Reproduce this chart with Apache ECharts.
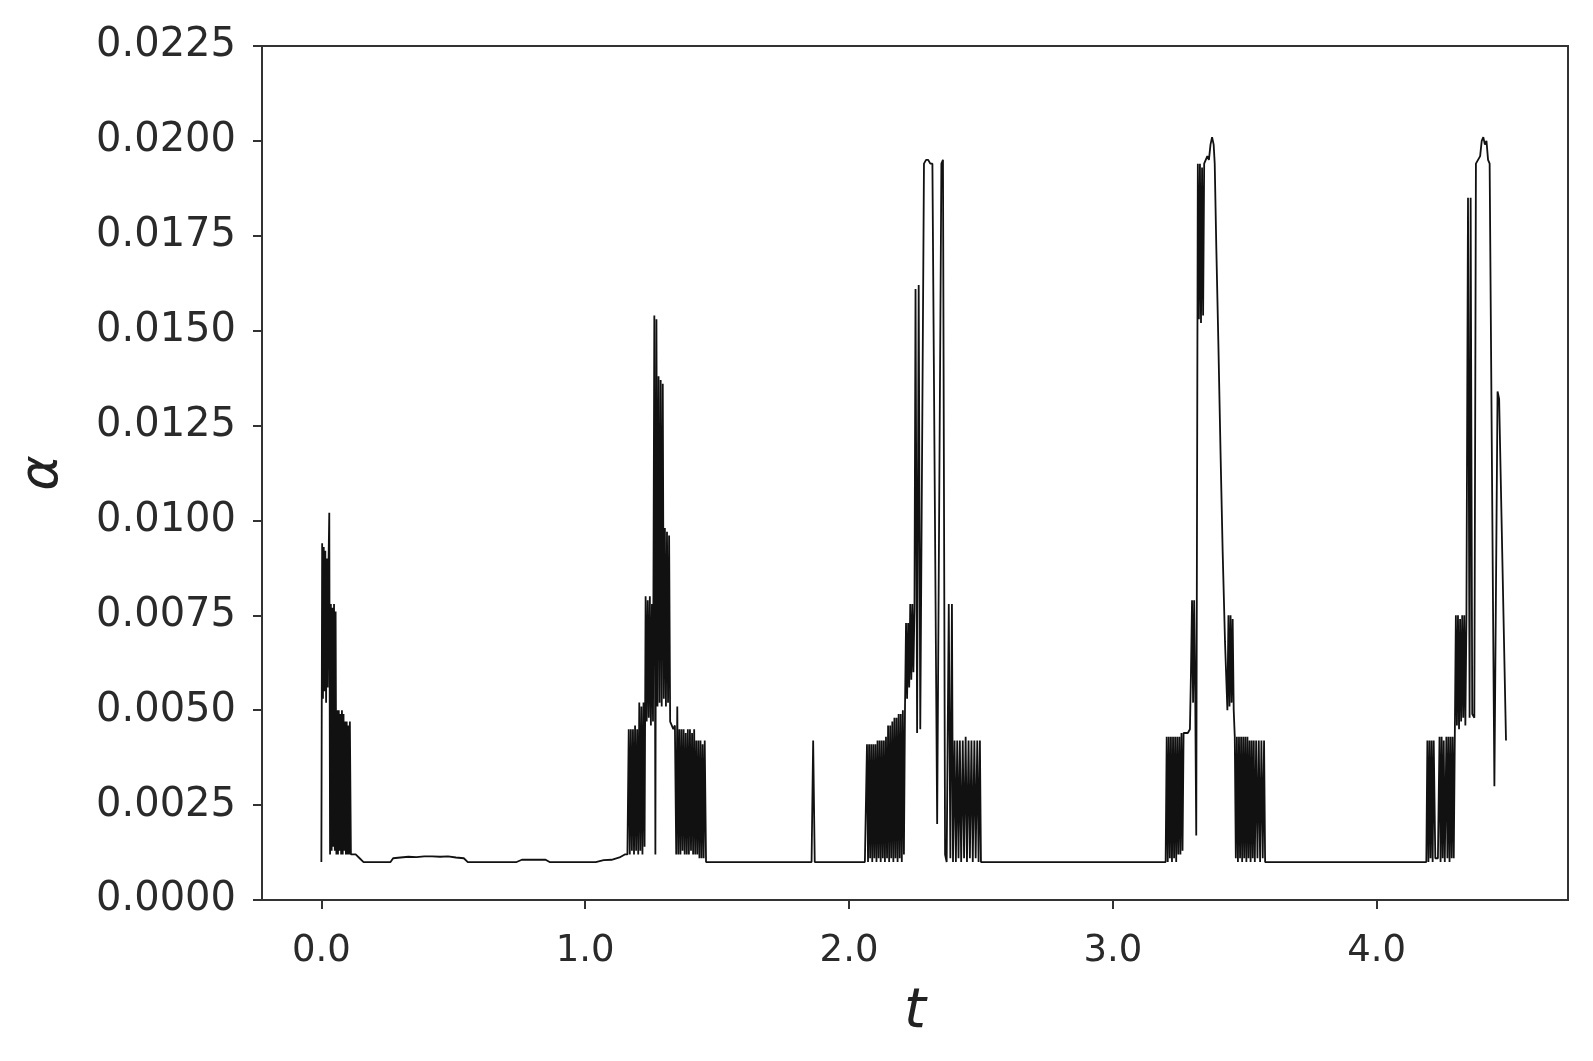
<!DOCTYPE html>
<html>
<head>
<meta charset="utf-8">
<script src="https://cdn.jsdelivr.net/npm/echarts@6/dist/echarts.min.js"></script>
<style>
  html, body { margin: 0; padding: 0; background: #fff; }
  #main { width: 1593px; height: 1061px; }
</style>
</head>
<body>
<div id="main"></div>
<script>
// [t, alpha] pairs, section by section
var burst1 = [
  [0.000,0.0010],[0.003,0.0094],[0.006,0.0053],[0.009,0.0093],[0.012,0.0055],[0.015,0.0092],
  [0.018,0.0052],[0.021,0.0090],[0.024,0.0056],[0.027,0.0088],[0.030,0.0102],[0.033,0.0012],
  [0.036,0.0078],[0.039,0.0013],[0.042,0.0077],[0.045,0.0014],[0.048,0.0078],[0.051,0.0013],
  [0.054,0.0076],[0.057,0.0012],[0.060,0.0050],[0.063,0.0012],[0.066,0.0050],[0.069,0.0013],
  [0.072,0.0049],[0.075,0.0012],[0.078,0.0050],[0.081,0.0012],[0.084,0.0049],[0.087,0.0013],
  [0.090,0.0047],[0.093,0.0012],[0.096,0.0047],[0.099,0.0012],[0.102,0.0046],[0.105,0.0012],
  [0.108,0.0047],[0.112,0.0012]
];
var rest1 = [
  [0.118,0.0012],[0.130,0.0012],[0.145,0.0011],[0.160,0.0010],[0.200,0.0010],[0.240,0.0010],
  [0.262,0.0010],[0.272,0.0011],[0.300,0.00112],[0.330,0.00114],[0.360,0.00113],[0.390,0.00115],
  [0.420,0.00115],[0.450,0.00114],[0.480,0.00115],[0.510,0.00112],[0.540,0.0011],[0.555,0.0010],
  [0.600,0.0010],[0.650,0.0010],[0.700,0.0010],[0.740,0.0010],[0.760,0.00106],[0.790,0.00106],
  [0.820,0.00106],[0.850,0.00106],[0.865,0.0010],[0.900,0.0010],[0.950,0.0010],[1.000,0.0010],
  [1.040,0.0010],[1.070,0.00105],[1.100,0.00106],[1.130,0.00112],[1.150,0.0012],[1.160,0.0012]
];
var burst2 = [
  [1.165,0.0045],[1.169,0.0012],[1.173,0.0045],[1.177,0.0013],[1.181,0.0045],[1.185,0.0012],
  [1.189,0.0046],[1.193,0.0013],[1.197,0.0045],[1.201,0.0012],[1.205,0.0052],[1.209,0.0013],
  [1.213,0.0051],[1.217,0.0012],[1.221,0.0052],[1.225,0.0014],[1.229,0.0080],[1.233,0.0047],
  [1.237,0.0079],[1.241,0.0048],[1.245,0.0080],[1.249,0.0046],[1.253,0.0078],[1.257,0.0047],
  [1.262,0.0154],[1.266,0.0012],[1.270,0.0153],[1.274,0.0051],[1.278,0.0138],[1.282,0.0052],
  [1.286,0.0137],[1.290,0.0051],[1.294,0.0136],[1.298,0.0053],[1.302,0.0098],[1.306,0.0051],
  [1.310,0.0097],[1.314,0.0052],[1.318,0.0096],[1.322,0.0047],[1.328,0.0046],[1.334,0.0045],
  [1.340,0.0046],[1.345,0.0012],[1.349,0.0051],[1.353,0.0012],[1.357,0.0045],[1.361,0.0012],
  [1.365,0.0045],[1.369,0.0013],[1.373,0.0045],[1.377,0.0012],[1.381,0.0044],[1.385,0.0012],
  [1.389,0.0045],[1.393,0.0012],[1.397,0.0045],[1.401,0.0013],[1.405,0.0044],[1.409,0.0012],
  [1.413,0.0045],[1.417,0.0012],[1.421,0.0042],[1.425,0.0012],[1.429,0.0042],[1.433,0.0011],
  [1.437,0.0042],[1.441,0.0011],[1.445,0.0041],[1.449,0.0011],[1.453,0.0042],[1.458,0.0010]
];
var rest2 = [
  [1.470,0.0010],[1.520,0.0010],[1.580,0.0010],[1.640,0.0010],[1.700,0.0010],[1.760,0.0010],
  [1.820,0.0010],[1.858,0.0010],[1.864,0.0042],[1.870,0.0010],[1.900,0.0010],[1.950,0.0010],
  [2.000,0.0010],[2.030,0.0010],[2.060,0.0010]
];
var burst3 = [
  [2.064,0.0010],[2.068,0.0041],[2.072,0.0010],[2.076,0.0041],[2.080,0.0011],[2.084,0.0041],
  [2.088,0.0010],[2.092,0.0041],[2.096,0.0011],[2.100,0.0041],[2.104,0.0010],[2.108,0.0042],
  [2.112,0.0011],[2.116,0.0042],[2.120,0.0010],[2.124,0.0042],[2.128,0.0011],[2.132,0.0042],
  [2.136,0.0010],[2.140,0.0043],[2.144,0.0011],[2.148,0.0046],[2.152,0.0010],[2.156,0.0046],
  [2.160,0.0011],[2.164,0.0047],[2.168,0.0010],[2.172,0.0048],[2.176,0.0011],[2.180,0.0048],
  [2.184,0.0010],[2.188,0.0049],[2.192,0.0011],[2.196,0.0049],[2.200,0.0010],[2.204,0.0050],
  [2.208,0.0012],[2.212,0.0050],[2.216,0.0073],[2.220,0.0053],[2.224,0.0073],[2.228,0.0056],
  [2.232,0.0078],[2.236,0.0058],[2.240,0.0078],[2.244,0.0060],[2.248,0.0077],[2.252,0.0161],
  [2.258,0.0044],[2.264,0.0162],[2.270,0.0045],[2.276,0.0045],[2.284,0.0194],[2.292,0.0195],
  [2.300,0.0195],[2.308,0.0194],[2.316,0.0194],[2.334,0.0020],[2.350,0.0194],[2.356,0.0195],
  [2.364,0.0012],[2.370,0.0010],[2.378,0.0078],[2.384,0.0011],[2.390,0.0078],[2.394,0.0010],
  [2.400,0.0042],[2.405,0.0010],[2.410,0.0042],[2.415,0.0011],[2.420,0.0042],[2.425,0.0010],
  [2.431,0.0042],[2.436,0.0011],[2.442,0.0043],[2.447,0.0010],[2.453,0.0042],[2.458,0.0011],
  [2.464,0.0042],[2.469,0.0010],[2.475,0.0042],[2.480,0.0011],[2.486,0.0042],[2.491,0.0010],
  [2.496,0.0042],[2.500,0.0010]
];
var rest3 = [
  [2.550,0.0010],[2.620,0.0010],[2.700,0.0010],[2.780,0.0010],[2.860,0.0010],[2.940,0.0010],
  [3.020,0.0010],[3.100,0.0010],[3.160,0.0010],[3.200,0.0010]
];
var burst4 = [
  [3.204,0.0043],[3.208,0.0010],[3.212,0.0043],[3.216,0.0011],[3.220,0.0043],[3.224,0.0010],
  [3.228,0.0043],[3.232,0.0011],[3.236,0.0043],[3.240,0.0010],[3.244,0.0043],[3.248,0.0012],
  [3.252,0.0043],[3.256,0.0012],[3.260,0.0044],[3.264,0.0013],[3.268,0.0044],[3.276,0.0044],
  [3.284,0.0044],[3.292,0.0045],[3.296,0.0060],[3.300,0.0079],[3.304,0.0052],[3.308,0.0079],
  [3.312,0.0055],[3.316,0.0017],[3.322,0.0194],[3.326,0.0153],[3.330,0.0194],[3.334,0.0152],
  [3.338,0.0193],[3.342,0.0154],[3.346,0.0194],[3.352,0.0194],[3.358,0.0196],[3.364,0.0195],
  [3.370,0.0199],[3.376,0.0201],[3.382,0.0199],[3.386,0.0194],[3.392,0.0172],[3.400,0.0146],
  [3.408,0.0118],[3.416,0.0092],[3.425,0.0068],[3.434,0.0050],[3.438,0.0075],[3.442,0.0051],
  [3.446,0.0075],[3.450,0.0052],[3.454,0.0074],[3.458,0.0050],[3.462,0.0043],[3.466,0.0011],
  [3.470,0.0043],[3.474,0.0010],[3.478,0.0043],[3.482,0.0011],[3.486,0.0043],[3.490,0.0010],
  [3.494,0.0043],[3.498,0.0011],[3.502,0.0043],[3.506,0.0010],[3.510,0.0043],[3.514,0.0011],
  [3.518,0.0042],[3.522,0.0010],[3.526,0.0042],[3.530,0.0011],[3.534,0.0042],[3.538,0.0010],
  [3.543,0.0042],[3.548,0.0011],[3.553,0.0042],[3.558,0.0010],[3.563,0.0042],[3.568,0.0011],
  [3.573,0.0042],[3.577,0.0010]
];
var rest4 = [
  [3.620,0.0010],[3.700,0.0010],[3.780,0.0010],[3.860,0.0010],[3.940,0.0010],[4.020,0.0010],
  [4.100,0.0010],[4.160,0.0010],[4.188,0.0010]
];
var burst5 = [
  [4.192,0.0042],[4.196,0.0010],[4.200,0.0042],[4.204,0.0011],[4.208,0.0042],[4.212,0.0010],
  [4.216,0.0042],[4.222,0.0011],[4.232,0.0011],[4.238,0.0043],[4.242,0.0010],[4.246,0.0043],
  [4.250,0.0011],[4.254,0.0042],[4.258,0.0010],[4.264,0.0043],[4.268,0.0011],[4.272,0.0043],
  [4.276,0.0010],[4.280,0.0043],[4.284,0.0011],[4.288,0.0043],[4.292,0.0011],[4.296,0.0043],
  [4.300,0.0075],[4.304,0.0046],[4.308,0.0075],[4.312,0.0045],[4.316,0.0074],[4.320,0.0047],
  [4.324,0.0075],[4.328,0.0048],[4.332,0.0075],[4.336,0.0046],[4.340,0.0074],[4.346,0.0185],
  [4.352,0.0048],[4.356,0.0185],[4.362,0.0049],[4.370,0.0048],[4.376,0.0194],[4.384,0.0195],
  [4.392,0.0196],[4.398,0.0200],[4.404,0.0201],[4.410,0.0199],[4.416,0.0200],[4.422,0.0195],
  [4.428,0.0194],[4.446,0.0030],[4.458,0.0134],[4.464,0.0132],[4.490,0.0042]
];

var xTicks = [0, 1, 2, 3, 4];

function main() {
    var alphaSeries = [].concat(burst1, rest1, burst2, rest2, burst3, rest3, burst4, rest4, burst5);
    var axisColor = '#333';

    var myChart = echarts.init(document.getElementById('main'));
    var option = {
        animation: false,
        backgroundColor: '#fff',
        grid: {
            left: 262, right: 25, top: 46, bottom: 161,
            show: true, borderColor: axisColor, borderWidth: 2
        },
        xAxis: {
            type: 'value',
            min: -0.225,
            max: 4.725,
            name: 't',
            nameLocation: 'middle',
            nameGap: 84,
            nameTextStyle: { fontFamily: 'DejaVu Sans', fontStyle: 'italic', fontSize: 56, color: '#222' },
            axisLine: { onZero: false, lineStyle: { color: axisColor, width: 2 } },
            axisTick: { customValues: xTicks, length: 9, lineStyle: { color: axisColor, width: 2 } },
            axisLabel: {
                customValues: xTicks,
                margin: 33,
                fontFamily: 'DejaVu Sans', fontSize: 37, color: '#2a2a2a',
                formatter: function (v) { return v.toFixed(1); }
            },
            splitLine: { show: false }
        },
        yAxis: {
            type: 'value',
            min: 0,
            max: 0.0225,
            interval: 0.0025,
            name: 'α',
            nameLocation: 'middle',
            nameGap: 192,
            nameTextStyle: { fontFamily: 'DejaVu Sans', fontStyle: 'italic', fontSize: 54, color: '#222' },
            axisLine: { onZero: false, lineStyle: { color: axisColor, width: 2 } },
            axisTick: { length: 9, lineStyle: { color: axisColor, width: 2 } },
            axisLabel: {
                margin: 26,
                fontFamily: 'DejaVu Sans', fontSize: 40, color: '#2a2a2a',
                formatter: function (v) { return v.toFixed(4); }
            },
            splitLine: { show: false }
        },
        series: [{
            name: 'alpha',
            type: 'line',
            data: alphaSeries,
            showSymbol: false,
            lineStyle: { color: '#111', width: 1.8 }
        }]
    };
    myChart.setOption(option);
}
main();
</script>
</body>
</html>
